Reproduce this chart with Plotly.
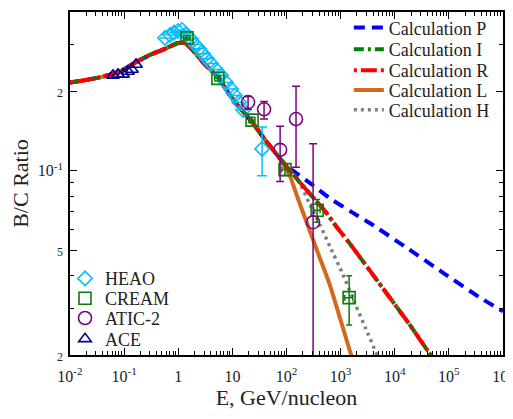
import plotly.graph_objects as go

# ---------------- data ----------------
# All calculations coincide below ~100 GeV/nucleon
COMMON_E = [0.01, 0.0358, 0.084, 0.159, 0.301, 0.57, 0.99, 1.34, 2.05, 3.13, 5.4, 9.06, 13.9, 23.1, 40.2, 67, 102]
COMMON_R = [0.216, 0.226, 0.238, 0.257, 0.275, 0.290, 0.305, 0.305, 0.280, 0.2525, 0.226, 0.193, 0.1725, 0.153, 0.131, 0.1148, 0.1035]

P_E = [132, 311, 640, 1633, 3510, 16900, 78400, 378000, 1000000]
P_R = [0.100, 0.0879, 0.0785, 0.0695, 0.0632, 0.0509, 0.041, 0.033, 0.0293]

I_E = [178, 297, 517, 826, 1500, 5370, 19300, 39700, 49100]
I_R = [0.0902, 0.0799, 0.0702, 0.0616, 0.0527, 0.0370, 0.0259, 0.0209, 0.0197]

R_E = [178, 297, 517, 826, 1500, 5370, 19300, 39700, 49100]
R_R = [0.0902, 0.0799, 0.0702, 0.0616, 0.0527, 0.0370, 0.0259, 0.0209, 0.0197]

L_E = [86.5, 116.6, 157, 221, 368, 640, 979, 1563, 1800]
L_R = [0.1063, 0.0951, 0.080, 0.066, 0.0497, 0.0366, 0.0275, 0.020, 0.0183]

H_E = [180, 270, 420, 640, 1070, 1850, 2840, 4700, 5500]
H_R = [0.089, 0.0745, 0.062, 0.0514, 0.041, 0.0313, 0.0255, 0.020, 0.0186]

HEAO_E = [0.57, 0.705, 0.835, 0.99, 1.17, 1.39, 1.72, 2.05, 2.42, 2.87, 3.40, 4.03, 5.0, 6.18, 7.65, 9.47, 11.2, 13.3, 15.8, 35.4]
HEAO_R = [0.319, 0.327, 0.334, 0.339, 0.342, 0.330, 0.316, 0.301, 0.290, 0.278, 0.266, 0.255, 0.242, 0.230, 0.216, 0.204, 0.193, 0.182, 0.170, 0.121]
HEAO_ERR_UP = [0, 0, 0, 0, 0, 0, 0, 0, 0, 0, 0, 0, 0, 0, 0, 0, 0, 0, 0, 0.0256]
HEAO_ERR_DN = [0, 0, 0, 0, 0, 0, 0, 0, 0, 0, 0, 0, 0, 0, 0, 0, 0, 0, 0, 0.0253]

CREAM_E = [1.45, 5.4, 23.1, 94, 368, 1436]
CREAM_R = [0.319, 0.224, 0.1556, 0.101, 0.0708, 0.033]
CREAM_ERR_UP = [0.006, 0.005, 0.004, 0.005, 0.007, 0.007]
CREAM_ERR_DN = [0.006, 0.005, 0.004, 0.005, 0.007, 0.007]
CREAM_EERR = [0.2, 0.7, 3.0, 12, 50, 240]

ATIC_E = [19.5, 38.5, 76.2, 150, 310]
ATIC_R = [0.182, 0.171, 0.120, 0.157, 0.0638]
ATIC_ERR_UP = [0.009, 0.012, 0.0276, 0.052, 0.0627]
ATIC_ERR_DN = [0.011, 0.014, 0.029, 0.054, 0.0628]

ACE_E = [0.0624, 0.077, 0.0955, 0.118, 0.140, 0.166]
ACE_R = [0.230, 0.232, 0.232, 0.238, 0.242, 0.253]

X_TICKS = [0.01, 0.1, 1, 10, 100, 1e3, 1e4, 1e5, 1e6]
X_TICKTEXT = ["10<sup>-2</sup>", "10<sup>-1</sup>", "1", "10", "10<sup>2</sup>",
              "10<sup>3</sup>", "10<sup>4</sup>", "10<sup>5</sup>", "10<sup>6</sup>"]
Y_TICKS = [0.02, 0.05, 0.1, 0.2]
Y_TICKTEXT = ["<span style='font-size:12px'>2</span>", "<span style='font-size:12px'>5</span>",
              "10<sup>-1</sup>", "<span style='font-size:12px'>2</span>"]

FONT = "Times New Roman, Liberation Serif, DejaVu Serif, serif"
TXT = "#222222"

# ---------------- figure ----------------
fig = go.Figure()

def line_trace(xs, ys, name, color, dash, width, legend):
    return go.Scatter(x=xs, y=ys, mode="lines", name=name, legend=legend,
                      line=dict(color=color, dash=dash, width=width, shape="spline", smoothing=0.6))

fig.add_trace(line_trace(COMMON_E[:-1] + L_E, COMMON_R[:-1] + L_R, "Calculation L", "#D2691E", "solid", 4, "legend4"))
fig.add_trace(line_trace(COMMON_E + P_E, COMMON_R + P_R, "Calculation P", "#0000FF", "11px,7px", 4, "legend"))
fig.add_trace(line_trace(COMMON_E + H_E, COMMON_R + H_R, "Calculation H", "#7F7F7F", "3px,4px", 3.5, "legend5"))
fig.add_trace(line_trace(COMMON_E + I_E, COMMON_R + I_R, "Calculation I", "#008000", "10px,4px,3px,4px", 4, "legend2"))
fig.add_trace(line_trace(COMMON_E + R_E, COMMON_R + R_R, "Calculation R", "#FF0000", "3px,4px,16px,4px", 4, "legend3"))

fig.add_trace(go.Scatter(
    x=HEAO_E, y=HEAO_R, mode="markers", name="HEAO", legend="legend6",
    marker=dict(symbol="diamond-open", size=11, color="#00BFFF", line=dict(width=1.6)),
    error_y=dict(type="data", array=HEAO_ERR_UP, arrayminus=HEAO_ERR_DN, color="#00BFFF", thickness=1.5, width=5)))
fig.add_trace(go.Scatter(
    x=CREAM_E, y=CREAM_R, mode="markers", name="CREAM", legend="legend7",
    marker=dict(symbol="square-open", size=12, color="#107A10", line=dict(width=1.6)),
    error_y=dict(type="data", array=CREAM_ERR_UP, arrayminus=CREAM_ERR_DN, color="#107A10", thickness=1.5, width=3),
    error_x=dict(type="data", array=CREAM_EERR, color="#107A10", thickness=1.5, width=3)))
fig.add_trace(go.Scatter(
    x=ATIC_E, y=ATIC_R, mode="markers", name="ATIC-2", legend="legend8",
    marker=dict(symbol="circle-open", size=13, color="#800080", line=dict(width=1.6)),
    error_y=dict(type="data", array=ATIC_ERR_UP, arrayminus=ATIC_ERR_DN, color="#800080", thickness=1.5, width=4)))
fig.add_trace(go.Scatter(
    x=ACE_E, y=ACE_R, mode="markers", name="ACE", legend="legend9",
    marker=dict(symbol="triangle-up-open", size=11, color="#00008B", line=dict(width=1.6))))

x_minor = [m * 10 ** k for k in range(-2, 6) for m in range(2, 10)]
y_minor = [0.03, 0.04, 0.06, 0.07, 0.08, 0.09, 0.3, 0.4]

axis_common = dict(showgrid=False, zeroline=False, showline=True, linecolor="black", linewidth=1.5,
                   mirror="ticks", ticks="inside", tickcolor="black", tickwidth=1.2, ticklen=7,
                   tickfont=dict(family=FONT, size=16, color=TXT), ticklabeloverflow="allow")

def leg(x, y):
    return dict(x=x, y=y, xanchor="left", yanchor="middle", bgcolor="rgba(0,0,0,0)",
                font=dict(family=FONT, size=18, color=TXT))

# The page body adds an 8px offset, so the figure is sized/margined to compensate.
fig.update_layout(
    width=512, height=411,
    margin=dict(l=62, r=17, t=1, b=64),
    paper_bgcolor="white", plot_bgcolor="white",
    font=dict(family=FONT, color=TXT),
    xaxis=dict(type="log", range=[-2, 6], tickvals=X_TICKS, ticktext=X_TICKTEXT,
               minor=dict(tickvals=x_minor, ticks="inside", ticklen=4, tickcolor="black", tickwidth=1),
               ticklabelstandoff=6,
               title=dict(text="E, GeV/nucleon", font=dict(family=FONT, size=22, color=TXT), standoff=6),
               **axis_common),
    yaxis=dict(type="log", range=[-1.69897, -0.398], tickvals=Y_TICKS, ticktext=Y_TICKTEXT,
               minor=dict(tickvals=y_minor, ticks="inside", ticklen=4, tickcolor="black", tickwidth=1),
               ticklabelstandoff=2,
               title=dict(text="B/C Ratio", font=dict(family=FONT, size=22, color=TXT), standoff=4),
               **axis_common),
    legend=leg(0.644, 0.9538),
    legend2=leg(0.644, 0.8902),
    legend3=leg(0.644, 0.8295),
    legend4=leg(0.644, 0.7717),
    legend5=leg(0.644, 0.7139),
    legend6=leg(-0.0115, 0.2225),
    legend7=leg(-0.0115, 0.1647),
    legend8=leg(-0.0115, 0.1069),
    legend9=leg(-0.0115, 0.0462),
    showlegend=True,
)

fig.write_html("out.html")
